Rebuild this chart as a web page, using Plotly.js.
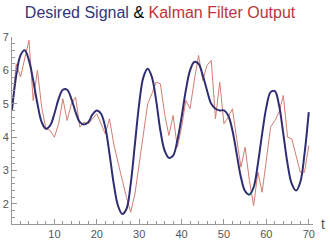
<!DOCTYPE html>
<html>
<head>
<meta charset="utf-8">
<script src="https://cdn.plot.ly/plotly-3.0.1.min.js"></script>
<style>html,body{margin:0;padding:0;background:#fff;}#chart{width:330px;height:240px;}</style>
</head>
<body>
<div id="chart"></div>
<script>
var tValues = [0,1,2,3,4,5,6,7,8,9,10,11,12,13,14,15,16,17,18,19,20,21,22,23,24,25,26,27,28,29,30,31,32,33,34,35,36,37,38,39,40,41,42,43,44,45,46,47,48,49,50,51,52,53,54,55,56,57,58,59,60,61,62,63,64,65,66,67,68,69,70];
var desiredSignal = [4.8,5.85,6.45,6.6,6.3,5.7,5.0,4.45,4.25,4.35,4.7,5.15,5.42,5.42,5.15,4.75,4.45,4.38,4.45,4.68,4.8,4.7,4.3,3.5,2.6,1.95,1.7,1.85,2.6,3.8,5.0,5.8,6.05,5.8,5.1,4.2,3.6,3.38,3.45,3.9,4.6,5.4,6.0,6.25,6.2,5.85,5.4,5.0,4.85,4.8,4.8,4.65,4.2,3.5,2.8,2.38,2.28,2.5,3.2,4.1,4.9,5.35,5.38,4.95,4.1,3.2,2.6,2.4,2.65,3.5,4.75];
var kalmanOutput = [4.8,6.2,5.8,6.4,6.9,5.1,6.0,4.9,4.25,4.2,4.0,4.4,5.15,4.5,5.0,5.2,4.3,4.45,4.4,4.55,4.7,4.4,4.1,4.55,3.8,3.25,2.7,2.2,1.75,2.3,3.2,4.1,5.0,5.3,5.65,5.6,4.7,4.05,4.65,3.7,4.3,5.1,4.85,5.7,6.45,5.7,6.15,6.3,4.55,5.65,4.4,4.6,4.85,3.95,3.1,3.7,2.7,1.95,2.95,2.35,3.3,4.3,4.5,4.75,5.25,4.0,3.95,3.4,2.95,2.95,3.75];
var xTickVals = [10,20,30,40,50,60,70];
var yTickVals = [2,3,4,5,6,7];

var fontFam = '"Liberation Sans", Arial, sans-serif';
var traces = [
  {x: tValues, y: kalmanOutput, type: 'scatter', mode: 'lines',
   line: {color: 'rgb(210,125,115)', width: 1}, hoverinfo: 'skip'},
  {x: tValues, y: desiredSignal, type: 'scatter', mode: 'lines',
   line: {color: 'rgb(48,46,115)', width: 2, shape: 'spline', smoothing: 1}, hoverinfo: 'skip'}
];
var axisCommon = {
  showline: true, linecolor: '#999', linewidth: 1, showgrid: false, zeroline: false,
  ticks: 'inside', ticklen: 5, tickcolor: '#999', tickwidth: 1,
  tickfont: {family: fontFam, size: 11, color: '#555'}
};
var layout = {
  width: 330, height: 240,
  margin: {l: 12, r: 17, t: 37, b: 16, pad: 0},
  paper_bgcolor: '#fff', plot_bgcolor: '#fff',
  showlegend: false,
  title: {
    text: '<span style="color:#35357a">Desired Signal</span> <span style="color:#000">&amp;</span> <span style="color:#c0333c">Kalman Filter Output</span>',
    font: {family: fontFam, size: 16},
    x: 0.485, xanchor: 'center', y: 0.95, yanchor: 'middle', yref: 'container'
  },
  xaxis: Object.assign({}, axisCommon, {
    range: [0, 71], tickmode: 'array', tickvals: xTickVals, ticktext: xTickVals.map(String),
    minor: {ticks: 'inside', ticklen: 3, tickcolor: '#999', dtick: 2, tick0: 0}
  }),
  yaxis: Object.assign({}, axisCommon, {
    range: [1.4, 7.0], tickmode: 'array', tickvals: yTickVals, ticktext: yTickVals.map(String),
    minor: {ticks: 'inside', ticklen: 3, tickcolor: '#999', dtick: 0.2, tick0: 0}
  }),
  annotations: [{
    text: 't', xref: 'paper', yref: 'paper', x: 1.02, y: 0, xanchor: 'left', yanchor: 'middle',
    showarrow: false, font: {family: fontFam, size: 14, color: '#555'}
  }]
};
Plotly.newPlot('chart', traces, layout, {displayModeBar: false, staticPlot: true});
</script>
</body>
</html>
